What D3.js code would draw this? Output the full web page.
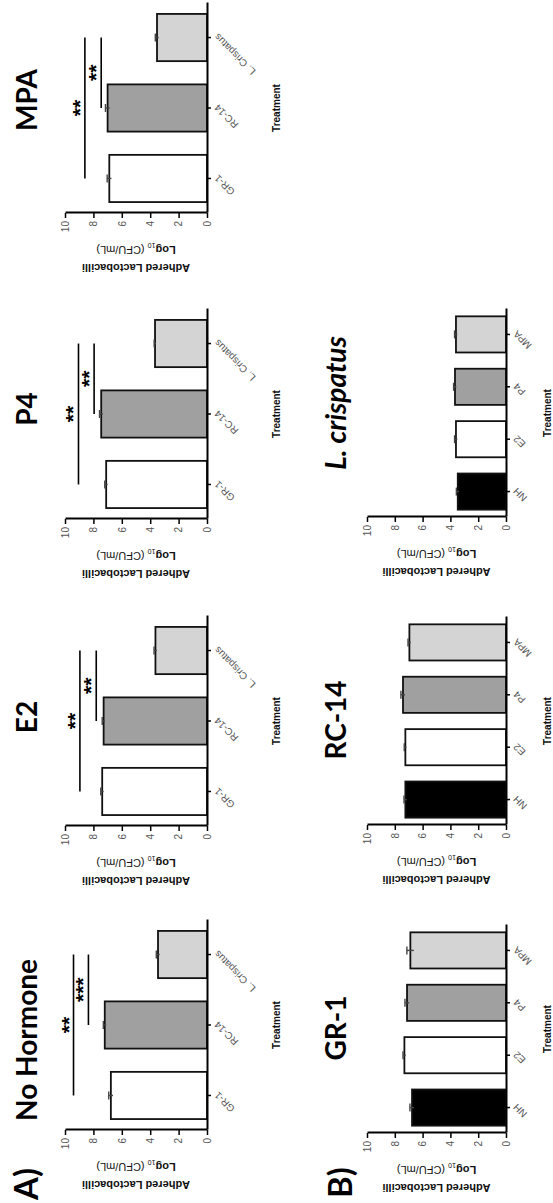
<!DOCTYPE html>
<html><head><meta charset="utf-8">
<script src="https://cdn.jsdelivr.net/npm/d3@7"></script>
<style>body{margin:0;background:#fff}svg{display:block}</style>
</head><body>
<svg id="c" width="553" height="1203"></svg>
<script>
// ---- data ----
const strainCats = ["GR-1", "RC-14", "L. Crispatus"];
const hormoneCats = ["NH", "E2", "P4", "MPA"];
const valueTicks = [0, 2, 4, 6, 8, 10];

const panelATitles = ["No Hormone", "E2", "P4", "MPA"];
const noHormoneMeans = [6.77, 7.2, 3.45];
const noHormoneErr = [0.15, 0.1, 0.12];
const e2Means = [7.38, 7.28, 3.63];
const e2Err = [0.1, 0.1, 0.1];
const p4Means = [7.1, 7.45, 3.66];
const p4Err = [0.1, 0.12, 0.06];
const mpaMeans = [6.88, 7.0, 3.52];
const mpaErr = [0.15, 0.15, 0.12];
// significance: [from, to, level, stars]
const noHormoneSig = [["GR-1", "L. Crispatus", 9.4, "**"], ["RC-14", "L. Crispatus", 8.35, "***"]];
const e2Sig = [["GR-1", "L. Crispatus", 8.95, "**"], ["RC-14", "L. Crispatus", 7.8, "**"]];
const p4Sig = [["GR-1", "L. Crispatus", 9.05, "**"], ["RC-14", "L. Crispatus", 7.95, "**"]];
const mpaSig = [["GR-1", "L. Crispatus", 8.6, "**"], ["RC-14", "L. Crispatus", 7.45, "**"]];

const panelBTitles = ["GR-1", "RC-14", "L. crispatus"];
const gr1Means = [6.76, 7.31, 7.12, 6.88];
const gr1Err = [0.15, 0.1, 0.15, 0.25];
const rc14Means = [7.24, 7.24, 7.41, 6.95];
const rc14Err = [0.1, 0.08, 0.15, 0.1];
const lcMeans = [3.47, 3.6, 3.67, 3.6];
const lcErr = [0.1, 0.1, 0.1, 0.1];

const strainFills = ["#ffffff", "#a0a0a0", "#d4d4d4"];
const hormoneFills = ["#000000", "#ffffff", "#a0a0a0", "#d4d4d4"];

// ---- drawing (original figure is 1203 x 553, shown rotated 90° CCW) ----
const W = 1203;
const svg = d3.select("#c");
const root = svg.append("g").attr("transform", `translate(0,${W}) rotate(-90)`);

const AX = "'Liberation Sans', Arial, sans-serif";
const TT = "Lato, 'Open Sans', sans-serif";

function chart(cfg) {
  const g = root.append("g");
  const x = d3.scaleBand().domain(cfg.cats).range([cfg.left, cfg.right])
    .paddingInner(cfg.pi).paddingOuter(cfg.po);
  const y = d3.scaleLinear().domain([0, 10]).range([cfg.bottom, cfg.top]);

  g.selectAll("rect.bar").data(cfg.cats).join("rect").attr("class", "bar")
    .attr("x", d => x(d)).attr("width", x.bandwidth())
    .attr("y", (d, i) => y(cfg.means[i]))
    .attr("height", (d, i) => y(0) - y(cfg.means[i]))
    .attr("fill", (d, i) => cfg.fills[i])
    .attr("stroke", "#111").attr("stroke-width", 1.8);

  // error bars
  const eb = g.append("g").attr("stroke", "#444").attr("stroke-width", 1.4);
  cfg.cats.forEach((c, i) => {
    const cx = x(c) + x.bandwidth() / 2;
    const m = cfg.means[i], e = cfg.errs[i];
    eb.append("line").attr("x1", cx).attr("x2", cx).attr("y1", y(m - e)).attr("y2", y(m + e));
    eb.append("line").attr("x1", cx - 4).attr("x2", cx + 4).attr("y1", y(m + e)).attr("y2", y(m + e));
  });

  // axes
  const ya = g.append("g").attr("transform", `translate(${cfg.left},0)`)
    .call(d3.axisLeft(y).tickValues(valueTicks).tickSize(5).tickSizeOuter(0).tickPadding(3));
  const xa = g.append("g").attr("transform", `translate(0,${cfg.bottom})`)
    .call(d3.axisBottom(x).tickSize(4).tickSizeOuter(0));
  [ya, xa].forEach(a => {
    a.select(".domain").attr("stroke", "#000").attr("stroke-width", 2);
    a.selectAll(".tick line").attr("stroke", "#000").attr("stroke-width", 1.5);
    a.selectAll("text").attr("fill", "#555").style("font-family", AX).style("font-size", "10px");
  });
  xa.selectAll(".tick text")
    .attr("x", 0).attr("y", 0).attr("dy", "0.35em")
    .attr("text-anchor", "end")
    .attr("transform", "translate(2,9) rotate(-45)");

  // y label
  const cy = (cfg.top + cfg.bottom) / 2;
  g.append("text").attr("transform", `translate(${cfg.left - 51},${cy}) rotate(-90)`)
    .attr("text-anchor", "middle").style("font-family", AX).style("font-size", "11px")
    .style("font-weight", "bold").attr("fill", "#111").text("Adhered Lactobacilli");
  const l2 = g.append("text").attr("transform", `translate(${cfg.left - 33},${cy}) rotate(-90)`)
    .attr("text-anchor", "middle").style("font-family", AX).style("font-size", "11px").attr("fill", "#111");
  l2.append("tspan").style("font-weight", "bold").text("Log");
  l2.append("tspan").attr("dy", 3).style("font-size", "7px").text("10");
  l2.append("tspan").attr("dy", -3).text(" (CFU/mL)");

  // x label
  g.append("text").attr("x", (cfg.left + cfg.right) / 2).attr("y", cfg.treatY)
    .attr("text-anchor", "middle").style("font-family", AX).style("font-size", "10px")
    .style("font-weight", "bold").attr("fill", "#111").text("Treatment");

  // title
  g.append("text").attr("x", cfg.titleX).attr("y", cfg.titleY)
    .attr("text-anchor", "middle").style("font-family", TT).style("font-size", "28px")
    .style("font-weight", "bold").style("font-style", cfg.italic ? "italic" : "normal")
    .attr("fill", "#000").text(cfg.title);

  // significance
  (cfg.sig || []).forEach(([a, b, v, s]) => {
    const xa1 = x(a) + x.bandwidth() / 2, xb1 = x(b) + x.bandwidth() / 2;
    g.append("line").attr("x1", xa1).attr("x2", xb1).attr("y1", y(v)).attr("y2", y(v))
      .attr("stroke", "#000").attr("stroke-width", 1.6);
    g.append("text").attr("x", (xa1 + xb1) / 2).attr("y", y(v) + 2)
      .attr("text-anchor", "middle").style("font-family", AX).style("font-size", "21px")
      .style("font-weight", "bold").attr("fill", "#000").text(s);
  });
}

// Panel A
const aLefts = [73, 377, 684, 990];
const aTitleX = [163, 486, 794, 1103];
const aMeans = [noHormoneMeans, e2Means, p4Means, mpaMeans];
const aErrs = [noHormoneErr, e2Err, p4Err, mpaErr];
const aSigs = [noHormoneSig, e2Sig, p4Sig, mpaSig];
panelATitles.forEach((t, i) => chart({
  cats: strainCats, means: aMeans[i], errs: aErrs[i], fills: strainFills,
  left: aLefts[i], right: aLefts[i] + 210, top: 65, bottom: 207, pi: 0.33, po: 0.155,
  title: t, titleX: aTitleX[i], titleY: 37, treatY: 280, sig: aSigs[i]
}));

// Panel B
const bLefts = [70, 378, 686];
const bTitleX = [175, 483, 800];
const bMeans = [gr1Means, rc14Means, lcMeans];
const bErrs = [gr1Err, rc14Err, lcErr];
panelBTitles.forEach((t, i) => chart({
  cats: hormoneCats, means: bMeans[i], errs: bErrs[i], fills: hormoneFills,
  left: bLefts[i], right: bLefts[i] + 208, top: 367, bottom: 506, pi: 0.31, po: 0.14,
  title: t, titleX: bTitleX[i], titleY: 346, treatY: 551, italic: i === 2
}));

// panel letters
root.append("text").attr("x", 3).attr("y", 38).style("font-family", TT)
  .style("font-size", "33px").style("font-weight", "bold").text("A)");
root.append("text").attr("x", 5).attr("y", 352).style("font-family", TT)
  .style("font-size", "33px").style("font-weight", "bold").text("B)");
</script>
</body></html>
